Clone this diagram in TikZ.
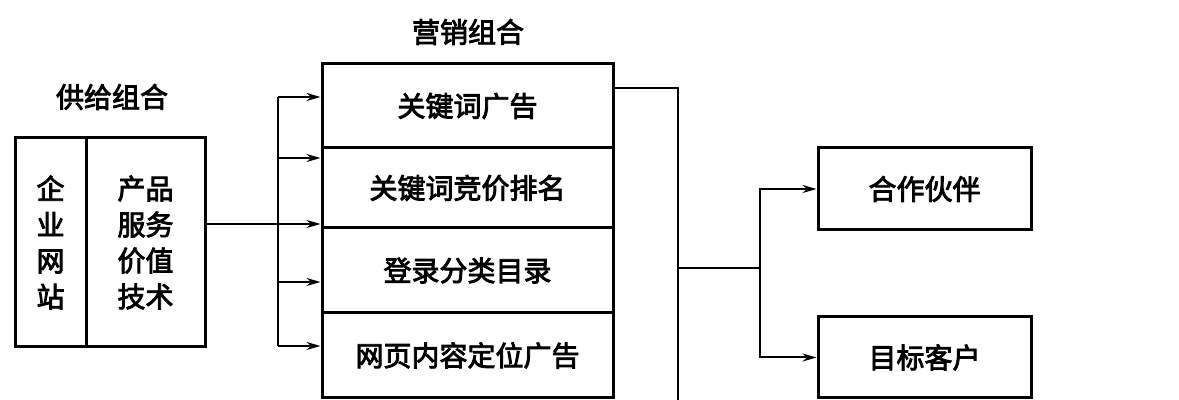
\documentclass[tikz,border=0pt]{standalone}
\usepackage{fontspec}
\newfontfamily\cjk[FakeBold=3]{Noto Sans CJK SC}
\usetikzlibrary{arrows.meta}
\tikzset{
  cell/.style={draw, line width=1.5pt, inner sep=0pt, font=\cjk\fontsize{14}{18}\selectfont, align=center},
  title/.style={font=\cjk\fontsize{14}{18}\selectfont},
  link/.style={line width=1pt},
  arr/.style={line width=1pt, -{Stealth[length=7pt,width=4pt]}}
}
\begin{document}
\begin{tikzpicture}[x=0.5pt,y=-0.5pt]
   \useasboundingbox (0,0) rectangle (1179,400);
   % supply side
   \node [title] (suptitle) at (112,97) {供给组合};
   \node [cell, minimum width=35.5pt, minimum height=104.5pt] (site) at (50.5,242.5) {企\\业\\网\\站};
   \node [cell, minimum width=59.5pt, minimum height=104.5pt] (value) at (145.5,242.5) {产品\\服务\\价值\\技术};
   % marketing mix
   \node [title] (mixtitle) at (468,32) {营销组合};
   \node [cell, minimum width=145.5pt, minimum height=42pt] (kwad) at (467.5,106) {关键词广告};
   \node [cell, minimum width=145.5pt, minimum height=40pt] (kwbid) at (467.5,188) {关键词竞价排名};
   \node [cell, minimum width=145.5pt, minimum height=42.5pt] (catalog) at (467.5,270.5) {登录分类目录};
   \node [cell, minimum width=145.5pt, minimum height=42.5pt] (ctxad) at (467.5,355.5) {网页内容定位广告};
   % receivers
   \node [cell, minimum width=106.5pt, minimum height=41pt] (partner) at (924.5,189) {合作伙伴};
   \node [cell, minimum width=106.5pt, minimum height=40.5pt] (client) at (924.5,357.5) {目标客户};
   % left bus
   \coordinate (bus) at (278,224);
   \draw [link] (value.east |- bus) -- (bus);
   \draw [link] (bus |- 0,97) -- (bus |- 0,346);
   \foreach \y in {97,158,224,282,346}
      \draw [arr] (bus |- 0,\y) -- (kwad.west |- 0,\y);
   % right side
   \coordinate (trunk) at (678,88);
   \coordinate (hub) at (760,268);
   \draw [link] (kwad.east |- trunk) -- (trunk) -- (trunk |- 0,400);
   \draw [link] (trunk |- hub) -- (hub);
   \draw [arr] (hub) |- (partner.west);
   \draw [arr] (hub) |- (client.west);
\end{tikzpicture}
\end{document}
